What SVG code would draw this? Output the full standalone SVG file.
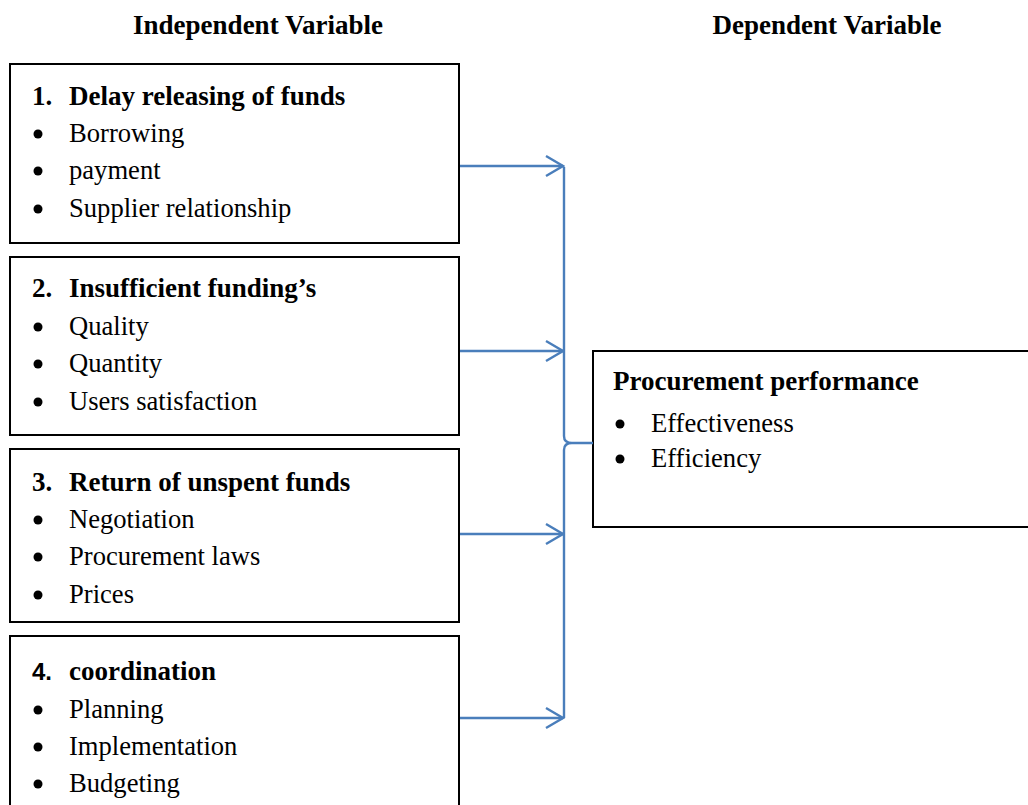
<svg xmlns="http://www.w3.org/2000/svg" width="1028" height="805" viewBox="0 0 1028 805">
  <defs>
    <style>
      .box { fill: #ffffff; stroke: #000000; stroke-width: 2; }
      .txt { font-family: "Liberation Serif", "Times New Roman", serif; font-size: 26.6px; fill: #000000; }
      .b { font-weight: bold; font-size: 27px; }
      .num4 { font-family: "Liberation Sans", Arial, sans-serif; font-weight: bold; font-size: 24px; }
      .dot { fill: #000000; }
      .link { fill: none; stroke: #4a7ebb; stroke-width: 2.4; }
    </style>
    <marker id="chev" viewBox="0 0 20 24" refX="18" refY="12" markerWidth="20" markerHeight="24" markerUnits="userSpaceOnUse" orient="auto">
      <path d="M1,2 L18,12 L1,22" fill="none" stroke="#4a7ebb" stroke-width="2.4"/>
    </marker>
  </defs>

  <rect width="1028" height="805" fill="#ffffff"/>

  <!-- column headings -->
  <g id="headings">
    <text class="txt b" x="258" y="34" text-anchor="middle">Independent Variable</text>
    <text class="txt b" x="827" y="34" text-anchor="middle">Dependent Variable</text>
  </g>

  <!-- independent variable 1 -->
  <g id="iv1">
    <rect class="box" x="10" y="64" width="449" height="179"/>
    <text class="txt b" x="32" y="105">1.</text>
    <text class="txt b" x="69" y="105">Delay releasing of funds</text>
    <circle class="dot" cx="38" cy="134" r="4.5"/>
    <text class="txt" x="69" y="142">Borrowing</text>
    <circle class="dot" cx="38" cy="171" r="4.5"/>
    <text class="txt" x="69" y="179">payment</text>
    <circle class="dot" cx="38" cy="209" r="4.5"/>
    <text class="txt" x="69" y="217">Supplier relationship</text>
  </g>

  <!-- independent variable 2 -->
  <g id="iv2">
    <rect class="box" x="10" y="257" width="449" height="178"/>
    <text class="txt b" x="32" y="297">2.</text>
    <text class="txt b" x="69" y="297">Insufficient funding’s</text>
    <circle class="dot" cx="38" cy="327" r="4.5"/>
    <text class="txt" x="69" y="335">Quality</text>
    <circle class="dot" cx="38" cy="364" r="4.5"/>
    <text class="txt" x="69" y="372">Quantity</text>
    <circle class="dot" cx="38" cy="402" r="4.5"/>
    <text class="txt" x="69" y="410">Users satisfaction</text>
  </g>

  <!-- independent variable 3 -->
  <g id="iv3">
    <rect class="box" x="10" y="449" width="449" height="173"/>
    <text class="txt b" x="32" y="491">3.</text>
    <text class="txt b" x="69" y="491">Return of unspent funds</text>
    <circle class="dot" cx="38" cy="520" r="4.5"/>
    <text class="txt" x="69" y="528">Negotiation</text>
    <circle class="dot" cx="38" cy="557" r="4.5"/>
    <text class="txt" x="69" y="565">Procurement laws</text>
    <circle class="dot" cx="38" cy="595" r="4.5"/>
    <text class="txt" x="69" y="603">Prices</text>
  </g>

  <!-- independent variable 4 (continues past the lower edge) -->
  <g id="iv4">
    <rect class="box" x="10" y="636" width="449" height="190"/>
    <text class="txt num4" x="32" y="680">4.</text>
    <text class="txt b" x="69" y="680">coordination</text>
    <circle class="dot" cx="38" cy="710" r="4.5"/>
    <text class="txt" x="69" y="718">Planning</text>
    <circle class="dot" cx="38" cy="747" r="4.5"/>
    <text class="txt" x="69" y="755">Implementation</text>
    <circle class="dot" cx="38" cy="784" r="4.5"/>
    <text class="txt" x="69" y="792">Budgeting</text>
  </g>

  <!-- dependent variable (continues past the right edge) -->
  <g id="dv">
    <rect class="box" x="593" y="351" width="460" height="176"/>
    <text class="txt b" x="613" y="390">Procurement performance</text>
    <circle class="dot" cx="620" cy="424" r="4.5"/>
    <text class="txt" x="651" y="432">Effectiveness</text>
    <circle class="dot" cx="620" cy="459" r="4.5"/>
    <text class="txt" x="651" y="467">Efficiency</text>
  </g>

  <!-- connectors: arrows into a brace that feeds the dependent variable -->
  <g id="connectors">
    <line class="link" x1="460" y1="166" x2="563" y2="166" marker-end="url(#chev)"/>
    <line class="link" x1="460" y1="351" x2="563" y2="351" marker-end="url(#chev)"/>
    <line class="link" x1="460" y1="534" x2="563" y2="534" marker-end="url(#chev)"/>
    <line class="link" x1="460" y1="718" x2="563" y2="718" marker-end="url(#chev)"/>
    <path class="link" d="M564,167 V436 Q564,443 572,443 H593 M572,443 Q564,443 564,450 V718"/>
  </g>
</svg>
